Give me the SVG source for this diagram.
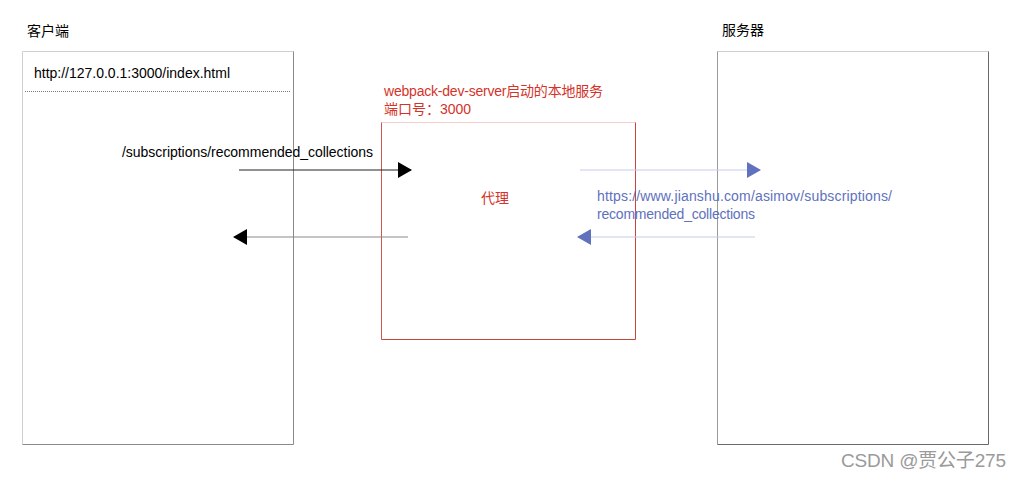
<svg xmlns="http://www.w3.org/2000/svg" width="1020" height="478" viewBox="0 0 1020 478">
<style>
text{font-family:"Liberation Sans","Noto Sans CJK SC",sans-serif;font-size:14px;}
.k{fill:#000}
.r{fill:#d4332a}
.b{fill:#6071bd}
.wm{fill:#9a9a9a;font-size:19px}
</style>
<defs>
<marker id="ak" markerWidth="14" markerHeight="16" refX="13" refY="8" orient="auto" markerUnits="userSpaceOnUse"><path d="M0,0 L14,8 L0,16 Z" fill="#000"/></marker>
<marker id="ab" markerWidth="14" markerHeight="16" refX="13" refY="8" orient="auto" markerUnits="userSpaceOnUse"><path d="M0,0 L14,8 L0,16 Z" fill="#6071bd"/></marker>
</defs>
<rect width="1020" height="478" fill="#fff"/>
<g id="client">
<path d="M22.5,444.5 V51.5 H293.5" fill="none" stroke="#cfcfcf"/>
<path d="M293.5,51.5 V444.5 H22.5" fill="none" stroke="#8a8a8a"/>
<line x1="25" y1="91.5" x2="290" y2="91.5" stroke="#777" stroke-dasharray="1 1"/>
<text x="27" y="36" class="k">客户端</text>
<text x="34" y="78" class="k" textLength="196">http://127.0.0.1:3000/index.html</text>
</g>
<g id="proxy">
<path d="M381.5,339.5 V122.5 H635.5" fill="none" stroke="#f2cfcc"/>
<path d="M381.5,122.5 V339.5" fill="none" stroke="#d0574f"/>
<path d="M635.5,122.5 V339.5 H381.5" fill="none" stroke="#c9453c"/>
<text x="384" y="96" class="r" textLength="219">webpack-dev-server启动的本地服务</text>
<text x="384" y="114" class="r">端口号：3000</text>
<text x="481" y="203" class="r">代理</text>
</g>
<g id="server">
<path d="M717.5,444.5 V51.5 H988.5" fill="none" stroke="#cfcfcf"/>
<path d="M717.5,51.5 V444.5" fill="none" stroke="#9a9a9a"/>
<path d="M988.5,51.5 V444.5 H717.5" fill="none" stroke="#6a6a6a"/>
<text x="722" y="35" class="k">服务器</text>
</g>
<g id="connectors">
<line x1="239" y1="170" x2="411" y2="170" stroke="#222" marker-end="url(#ak)"/>
<text x="122" y="157" class="k" textLength="251">/subscriptions/recommended_collections</text>
<line x1="408" y1="237" x2="234" y2="237" stroke="#888" marker-end="url(#ak)"/>
<line x1="580" y1="170" x2="760" y2="170" stroke="#c5cbe8" marker-end="url(#ab)"/>
<line x1="755" y1="237" x2="578" y2="237" stroke="#c5cbe8" marker-end="url(#ab)"/>
<text x="597" y="201" class="b" textLength="295">https://www.jianshu.com/asimov/subscriptions/</text>
<text x="597" y="219" class="b" textLength="158">recommended_collections</text>
</g>
<text x="841" y="467" class="wm" textLength="165">CSDN @贾公子275</text>
</svg>
